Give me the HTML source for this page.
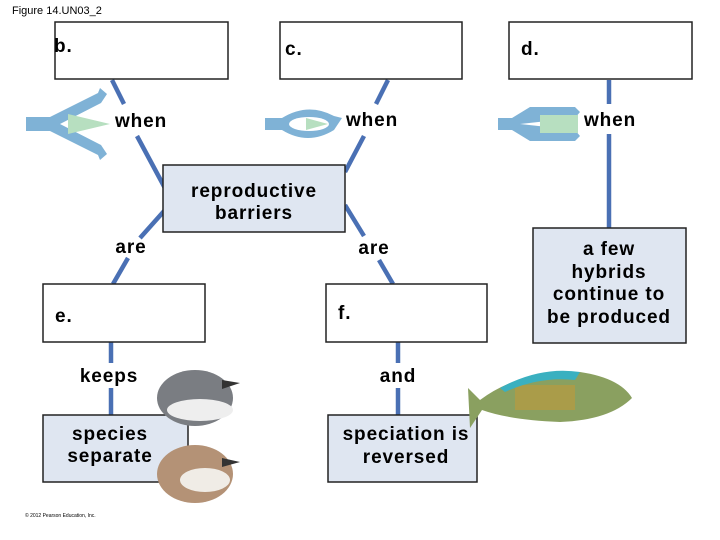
<!DOCTYPE html>
<html><head><style>
body{margin:0;width:720px;height:540px;background:#fff;overflow:hidden}
svg{display:block}
text{font-family:"Liberation Sans",Arial,sans-serif;font-weight:bold;fill:#000}
.t{font-size:19px;letter-spacing:0.9px}
</style></head><body>
<svg width="720" height="540" viewBox="0 0 720 540">
<text x="12" y="14" style="font-weight:normal" font-size="11">Figure 14.UN03_2</text>
<g stroke="#4a70b4" stroke-width="4.5" fill="none">
<line x1="112" y1="80" x2="124" y2="104"/>
<line x1="137" y1="136" x2="166" y2="190"/>
<line x1="388" y1="80" x2="376" y2="104"/>
<line x1="364" y1="136" x2="345" y2="172"/>
<line x1="609" y1="80" x2="609" y2="104"/>
<line x1="609" y1="134" x2="609" y2="228"/>
<line x1="165" y1="210" x2="140" y2="238"/>
<line x1="128" y1="258" x2="113" y2="284"/>
<line x1="345" y1="205" x2="364" y2="236"/>
<line x1="379" y1="260" x2="393" y2="284"/>
<line x1="111" y1="342" x2="111" y2="363"/>
<line x1="111" y1="388" x2="111" y2="415"/>
<line x1="398" y1="342" x2="398" y2="363"/>
<line x1="398" y1="388" x2="398" y2="415"/>
</g>
<g stroke="#222" stroke-width="1.5">
<rect x="55" y="22" width="173" height="57" fill="#fff"/>
<rect x="280" y="22" width="182" height="57" fill="#fff"/>
<rect x="509" y="22" width="183" height="57" fill="#fff"/>
<rect x="163" y="165" width="182" height="67" fill="#dfe6f1"/>
<rect x="43" y="284" width="162" height="58" fill="#fff"/>
<rect x="326" y="284" width="161" height="58" fill="#fff"/>
<rect x="533" y="228" width="153" height="115" fill="#dfe6f1"/>
<rect x="43" y="415" width="145" height="67" fill="#dfe6f1"/>
<rect x="328" y="415" width="149" height="67" fill="#dfe6f1"/>
</g>
<text x="54" y="52" class="t">b.</text>
<text x="285" y="55" class="t">c.</text>
<text x="521" y="55" class="t">d.</text>
<text x="115" y="127" class="t">when</text>
<text x="346" y="126" class="t">when</text>
<text x="584" y="126" class="t">when</text>
<text x="254" y="197" class="t" text-anchor="middle">reproductive</text>
<text x="254" y="219" class="t" text-anchor="middle">barriers</text>
<text x="131" y="253" class="t" text-anchor="middle">are</text>
<text x="374" y="254" class="t" text-anchor="middle">are</text>
<text x="55" y="322" class="t">e.</text>
<text x="338" y="319" class="t">f.</text>
<text x="609" y="255" class="t" text-anchor="middle">a few</text>
<text x="609" y="278" class="t" text-anchor="middle">hybrids</text>
<text x="609" y="300" class="t" text-anchor="middle">continue to</text>
<text x="609" y="323" class="t" text-anchor="middle">be produced</text>
<text x="109" y="382" class="t" text-anchor="middle">keeps</text>
<text x="398" y="382" class="t" text-anchor="middle">and</text>
<text x="110" y="440" class="t" text-anchor="middle">species</text>
<text x="110" y="462" class="t" text-anchor="middle">separate</text>
<text x="406" y="440" class="t" text-anchor="middle">speciation is</text>
<text x="406" y="463" class="t" text-anchor="middle">reversed</text>
<text x="25" y="517" style="font-weight:normal" font-size="5">© 2012 Pearson Education, Inc.</text>
<g fill="#7fb2d6">
<path d="M26,117 L50,117 L98,93 L100,88 L107,94 L101,103 L60,124 L101,145 L107,154 L100,160 L98,155 L50,131 L26,131Z"/>
<polygon points="68,114 110,124 68,134" fill="#b7dfc0"/>
<path d="M265,118 L282,118 Q308,102 334,116 L342,118 L338,124 L334,130 Q308,146 282,130 L265,130Z"/>
<ellipse cx="309" cy="124" rx="20" ry="7" fill="#fff"/>
<polygon points="306,118 328,124 306,130" fill="#b7dfc0"/>
<path d="M498,118 L512,118 L530,107 L575,107 L580,112 L575,118 L520,124 L575,130 L580,136 L575,141 L530,141 L512,130 L498,130Z"/>
<rect x="540" y="115" width="38" height="18" fill="#b7dfc0"/>
</g>
<ellipse cx="195" cy="398" rx="38" ry="28" fill="#7a7d82"/>
<ellipse cx="200" cy="410" rx="33" ry="11" fill="#eee"/>
<polygon points="222,380 240,383 222,389" fill="#333"/>
<ellipse cx="195" cy="474" rx="38" ry="29" fill="#b49276"/>
<ellipse cx="205" cy="480" rx="25" ry="12" fill="#f0ece6"/>
<polygon points="222,458 240,462 222,467" fill="#333"/>
<path d="M468,388 L480,400 Q520,370 580,372 Q620,378 632,398 Q610,420 560,422 Q510,420 482,410 L470,428 Z" fill="#8aa060"/>
<rect x="515" y="385" width="60" height="25" fill="#b89a40" opacity="0.7"/>
<path d="M500,388 Q540,366 580,372 L575,380 Q540,376 505,392Z" fill="#3ab0c0"/>
</svg>
</body></html>
